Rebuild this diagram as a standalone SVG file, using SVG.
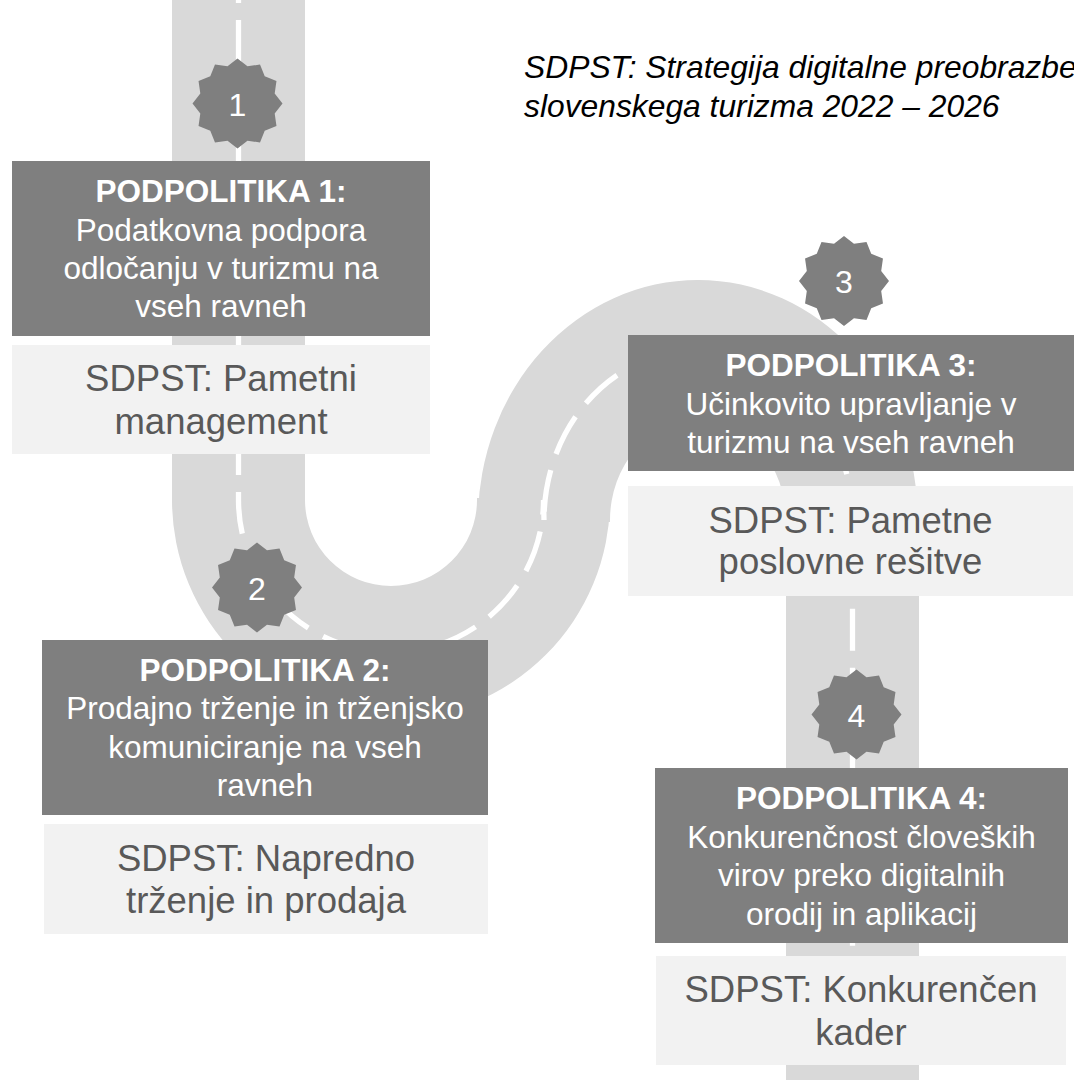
<svg xmlns="http://www.w3.org/2000/svg" xmlns:xlink="http://www.w3.org/1999/xlink" width="1074" height="1080" viewBox="0 0 1074 1080">
<style>
.road{fill:#d9d9d9}
.dash{fill:none;stroke:#ffffff;stroke-width:5.3;stroke-dasharray:42 17}
.dark{fill:#7f7f7f}
.light{fill:#f2f2f2}
.badge{fill:#7f7f7f}
.num{font-family:"Liberation Sans",Arial,sans-serif;font-size:32px;fill:#ffffff;text-anchor:middle}
.hd{font-family:"Liberation Sans",Arial,sans-serif;font-size:31.5px;font-weight:bold;fill:#ffffff;text-anchor:middle}
.bd{font-family:"Liberation Sans",Arial,sans-serif;font-size:31.5px;fill:#ffffff;text-anchor:middle}
.lt{font-family:"Liberation Sans",Arial,sans-serif;font-size:36.5px;fill:#595959;text-anchor:middle}
.title{font-family:"Liberation Sans",Arial,sans-serif;font-size:31.8px;font-style:italic;fill:#000000}
</style>
<defs>
<polygon id="star" points="0,-45 9.96,-37.19 22.5,-38.97 27.22,-27.22 38.97,-22.5 37.19,-9.96 45,0 37.19,9.96 38.97,22.5 27.22,27.22 22.5,38.97 9.96,37.19 0,45 -9.96,37.19 -22.5,38.97 -27.22,27.22 -38.97,22.5 -37.19,9.96 -45,0 -37.19,-9.96 -38.97,-22.5 -27.22,-27.22 -22.5,-38.97 -9.96,-37.19"/>
</defs>
<rect width="1074" height="1080" fill="#ffffff"/>
<g id="road">
<rect class="road" x="172" y="0" width="133" height="502"/>
<path class="road" d="M172,500 A219,219 0 0 0 610,500 L477,500 A86,86 0 0 1 305,500 Z"/>
<rect class="road" x="477" y="498" width="133" height="24"/>
<path class="road" d="M478,520 A220,240 0 0 1 918,520 L786,520 A88,100 0 0 0 610,520 Z"/>
<rect class="road" x="786" y="518" width="133" height="562"/>
</g>
<g id="connectors">
<path class="dash" style="stroke-dashoffset:39" d="M238.5,0 V500 A152.5,152.5 0 0 0 543.5,500 L544,520"/>
<path class="dash" style="stroke-dashoffset:50.5" d="M544,520 A154,170 0 0 1 852.5,520 V1080"/>
</g>
<g id="title">
<text class="title" x="524" y="77.5">SDPST: Strategija digitalne preobrazbe</text>
<text class="title" x="524" y="117">slovenskega turizma 2022 – 2026</text>
</g>
<g id="badge1"><use xlink:href="#star" class="badge" transform="translate(237.5,103.5)"/><text class="num" x="237.5" y="115.5">1</text></g>
<g id="badge2"><use xlink:href="#star" class="badge" transform="translate(257,587.5)"/><text class="num" x="257" y="599.5">2</text></g>
<g id="badge3"><use xlink:href="#star" class="badge" transform="translate(844,281)"/><text class="num" x="844" y="293">3</text></g>
<g id="badge4"><use xlink:href="#star" class="badge" transform="translate(856.5,714.5)"/><text class="num" x="856.5" y="726.5">4</text></g>
<g id="node1">
<rect class="dark" x="12" y="161" width="418" height="175"/>
<text class="hd" x="221" y="202">PODPOLITIKA 1:</text>
<text class="bd" x="221" y="240.5">Podatkovna podpora</text>
<text class="bd" x="221" y="279">odločanju v turizmu na</text>
<text class="bd" x="221" y="317">vseh ravneh</text>
</g>
<g id="node1b">
<rect class="light" x="12" y="345" width="418" height="109"/>
<text class="lt" x="221" y="391">SDPST: Pametni</text>
<text class="lt" x="221" y="434">management</text>
</g>
<g id="node2">
<rect class="dark" x="42" y="640" width="446" height="175"/>
<text class="hd" x="265" y="681">PODPOLITIKA 2:</text>
<text class="bd" x="265" y="719">Prodajno trženje in trženjsko</text>
<text class="bd" x="265" y="757.5">komuniciranje na vseh</text>
<text class="bd" x="265" y="796">ravneh</text>
</g>
<g id="node2b">
<rect class="light" x="44" y="824" width="444" height="110"/>
<text class="lt" x="266" y="870.5">SDPST: Napredno</text>
<text class="lt" x="266" y="913">trženje in prodaja</text>
</g>
<g id="node3">
<rect class="dark" x="628" y="335" width="446" height="136"/>
<text class="hd" x="851" y="376">PODPOLITIKA 3:</text>
<text class="bd" x="851" y="414.5">Učinkovito upravljanje v</text>
<text class="bd" x="851" y="453">turizmu na vseh ravneh</text>
</g>
<g id="node3b">
<rect class="light" x="628" y="486" width="445" height="110"/>
<text class="lt" x="850.5" y="532.5">SDPST: Pametne</text>
<text class="lt" x="850.5" y="574">poslovne rešitve</text>
</g>
<g id="node4">
<rect class="dark" x="655" y="768" width="413" height="175"/>
<text class="hd" x="861.5" y="809">PODPOLITIKA 4:</text>
<text class="bd" x="861.5" y="847.5">Konkurenčnost človeških</text>
<text class="bd" x="861.5" y="886">virov preko digitalnih</text>
<text class="bd" x="861.5" y="924.5">orodij in aplikacij</text>
</g>
<g id="node4b">
<rect class="light" x="656" y="956" width="410" height="109"/>
<text class="lt" x="861" y="1002">SDPST: Konkurenčen</text>
<text class="lt" x="861" y="1044.5">kader</text>
</g>
</svg>
